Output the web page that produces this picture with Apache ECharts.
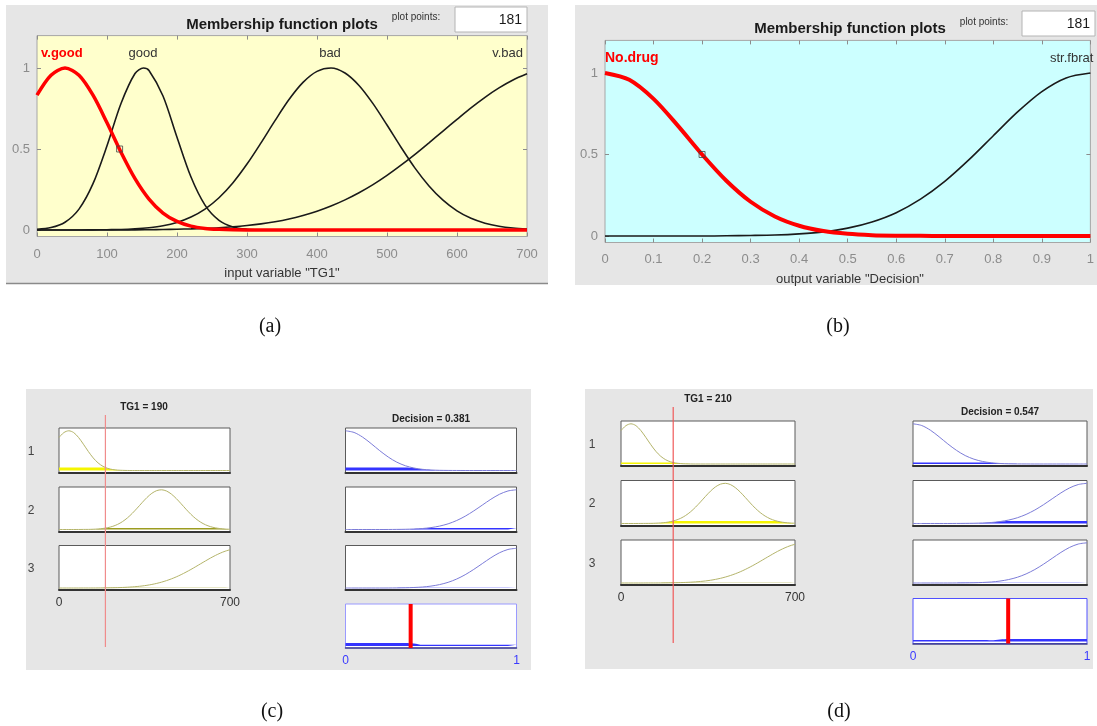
<!DOCTYPE html>
<html><head><meta charset="utf-8">
<script src="https://cdn.jsdelivr.net/npm/echarts@6/dist/echarts.min.js"></script>
<style>html,body{margin:0;padding:0;background:#fff}#c{width:1097px;height:726px}</style>
</head><body><div id="c"></div>
<script>
// ---------- data ----------
const tgX = [0,20,40,60,80,100,120,140,160,180,200,220,240,260,280,300,320,340,360,380,400,420,440,460,480,500,520,540,560,580,600,620,640,660,680,700];
const vGood = [0.832,0.955,1.000,0.955,0.832,0.662,0.480,0.317,0.191,0.105,0.053,0.024,0.010,0.004,0.001,0,0,0,0,0,0,0,0,0,0,0,0,0,0,0,0,0,0,0,0,0];
const goodX = [0,20,40,60,80,100,120,140,152,160,180,200,220,240,260,280,300,320,340,360,380,400,420,440,460,480,500,520,540,560,580,600,620,640,660,680,700];
const good  = [0.004,0.015,0.048,0.129,0.286,0.520,0.781,0.966,1.000,0.985,0.827,0.573,0.327,0.154,0.060,0.019,0.005,0.001,0,0,0,0,0,0,0,0,0,0,0,0,0,0,0,0,0,0,0];
const bad   = [0,0,0,0,0.001,0.002,0.003,0.007,0.014,0.026,0.047,0.080,0.129,0.199,0.292,0.407,0.538,0.675,0.805,0.911,0.979,1.000,0.969,0.892,0.780,0.648,0.511,0.382,0.272,0.184,0.118,0.072,0.042,0.023,0.012,0.006];
const vBad  = [0,0,0,0,0,0.001,0.001,0.001,0.002,0.003,0.005,0.007,0.010,0.014,0.020,0.028,0.038,0.051,0.068,0.090,0.116,0.148,0.186,0.230,0.280,0.337,0.400,0.467,0.538,0.611,0.683,0.754,0.819,0.877,0.926,0.964];
const decX = [0,0.05,0.1,0.15,0.2,0.25,0.3,0.35,0.4,0.45,0.5,0.55,0.6,0.65,0.7,0.75,0.8,0.85,0.9,0.95,1];
const noDrug   = [1,0.958,0.841,0.677,0.500,0.339,0.210,0.120,0.063,0.030,0.013,0.005,0.002,0.001,0,0,0,0,0,0,0];
const strFbrat = [0,0,0,0,0,0.001,0.003,0.006,0.013,0.025,0.048,0.086,0.143,0.226,0.335,0.468,0.615,0.761,0.886,0.970,1];
const tgLabels  = ['v.good','good','bad','v.bad'];
const decLabels = ['No.drug','str.fbrat'];
const muTicks = [0,0.5,1];
const markerA = [118,0.5];
const markerB = [0.2,0.5];
const plotPoints = '181';
// rule viewer cases
const tg1C = 190, decisionC = 0.381, fireC = [0.076,0.035,0.004];
const tg1D = 210, decisionD = 0.547, fireD = [0.036,0.061,0.006];

// ---------- helpers ----------
const F = "'Liberation Sans', Arial, sans-serif";
const pairs = (xs, ys) => xs.map((x,i)=>[x, ys[i]]);
const clip = (ys, w) => ys.map(v => Math.min(v, w));
const grids=[], xAxes=[], yAxes=[], series=[], graphics=[];
function addGrid(g){ grids.push(g); return grids.length-1; }
function addX(a){ xAxes.push(a); return xAxes.length-1; }
function addY(a){ yAxes.push(a); return yAxes.length-1; }
function txt(x,y,text,font,fill,align,valign){
  graphics.push({type:'text', x:x, y:y, z:20, silent:true,
    style:{text:text, font:font, fill:fill, align:align||'center', verticalAlign:valign||'middle', textAlign:align||'center', textVerticalAlign:valign||'middle'}});
}
function rect(x,y,w,h,fill,stroke,z){
  graphics.push({type:'rect', z:(z===undefined?-10:z), silent:true, shape:{x:x,y:y,width:w,height:h}, style:{fill:fill, stroke:stroke||null, lineWidth:stroke?1:0}});
}

// ---------- backgrounds ----------
rect(6,5,542,279,'#e6e6e6');
graphics.push({type:'line', z:-9, silent:true, shape:{x1:6,y1:283.5,x2:548,y2:283.5}, style:{stroke:'#8a8a8a', lineWidth:1.5}});
rect(575,5,522,280,'#e6e6e6');
rect(26,389,505,281,'#e6e6e6');
rect(585,389,508,280,'#e6e6e6');

// ---------- membership function panel builder ----------
function mfPanel(cfg){
  const gi = addGrid({left:cfg.left, top:cfg.top, width:cfg.width, height:cfg.height, show:true, backgroundColor:cfg.bg, borderColor:'#a6a6a6', borderWidth:1});
  const tickStyle = {color:'#8c8c8c'};
  const xi = addX({gridIndex:gi, type:'value', min:cfg.xmin, max:cfg.xmax, interval:cfg.interval, position:'bottom',
    axisLine:{show:false, onZero:false}, axisTick:{show:true, inside:true, length:4, lineStyle:tickStyle},
    axisLabel:{color:'#8c8c8c', fontSize:13, fontFamily:F, margin:cfg.xMargin}, splitLine:{show:false}});
  addX({gridIndex:gi, type:'value', min:cfg.xmin, max:cfg.xmax, interval:cfg.interval, position:'top',
    axisLine:{show:false, onZero:false}, axisTick:{show:true, inside:true, length:4, lineStyle:tickStyle},
    axisLabel:{show:false}, splitLine:{show:false}});
  const yi = addY({gridIndex:gi, type:'value', min:-0.04, max:1.2, position:'left',
    axisLine:{show:false, onZero:false}, axisTick:{show:true, inside:true, length:4, customValues:muTicks, lineStyle:tickStyle},
    axisLabel:{customValues:muTicks, color:'#8c8c8c', fontSize:13, fontFamily:F, margin:7}, splitLine:{show:false}});
  addY({gridIndex:gi, type:'value', min:-0.04, max:1.2, position:'right',
    axisLine:{show:false, onZero:false}, axisTick:{show:true, inside:true, length:4, customValues:muTicks, lineStyle:tickStyle},
    axisLabel:{show:false}, splitLine:{show:false}});
  cfg.curves.forEach(c=>{
    series.push({type:'line', xAxisIndex:xi, yAxisIndex:yi, data:pairs(c.xs, c.ys), smooth:0.3, symbol:'none',
      lineStyle:{color:c.color, width:c.width}, z:c.z||3, silent:true, animation:false});
  });
  series.push({type:'scatter', xAxisIndex:xi, yAxisIndex:yi, data:[cfg.marker], symbol:'rect', symbolSize:6,
    itemStyle:{color:'rgba(0,0,0,0)', borderColor:'#444', borderWidth:1}, z:6, silent:true, animation:false});
}

mfPanel({left:37, top:35.6, width:490, height:200.9, bg:'#ffffcc', xmin:0, xmax:700, interval:100, xMargin:11, marker:markerA,
  curves:[{xs:tgX,ys:vBad,color:'#1a1a1a',width:1.6},{xs:tgX,ys:bad,color:'#1a1a1a',width:1.6},{xs:goodX,ys:good,color:'#1a1a1a',width:1.6},{xs:tgX,ys:vGood,color:'#ff0000',width:3.5,z:5}]});
mfPanel({left:605, top:40.4, width:487, height:202.1, bg:'#ccffff', xmin:0, xmax:1, interval:0.1, xMargin:10, marker:markerB,
  curves:[{xs:decX,ys:strFbrat,color:'#1a1a1a',width:1.6},{xs:decX,ys:noDrug,color:'#ff0000',width:4,z:5}]});

// panel (a) texts
txt(282,25,'Membership function plots','bold 15px '+F,'#1a1a1a');
txt(416,17,'plot points:','10px '+F,'#333');
rect(455,7,72,25,'#ffffff','#b4b4b4',1);
txt(522,20,plotPoints,'14px '+F,'#1a1a1a','right');
txt(41,53,tgLabels[0],'bold 13px '+F,'#ff0000','left');
txt(143,53,tgLabels[1],'13px '+F,'#333');
txt(330,53,tgLabels[2],'13px '+F,'#333');
txt(523,53,tgLabels[3],'13px '+F,'#333','right');
txt(282,273,'input variable "TG1"','13px '+F,'#333');
// panel (b) texts
txt(850,29,'Membership function plots','bold 15px '+F,'#1a1a1a');
txt(984,22,'plot points:','10px '+F,'#333');
rect(1022,11,73,25,'#ffffff','#b4b4b4',1);
txt(1090,24,plotPoints,'14px '+F,'#1a1a1a','right');
txt(605,58,decLabels[0],'bold 14px '+F,'#ff0000','left');
txt(1050,58,decLabels[1],'13px '+F,'#333','left');
txt(850,279,'output variable "Decision"','13px '+F,'#333');

// ---------- rule viewer builder ----------
function miniBox(left, top, w, h, xmax, opt){
  const gi = addGrid({left:left, top:top, width:w, height:h, show:true, backgroundColor:'#ffffff', borderColor:opt.border||'#5a5a5a', borderWidth:1});
  const xi = addX({gridIndex:gi, type:'value', min:0, max:xmax, interval:xmax,
    axisLine:{show:true, onZero:false, lineStyle:{color:opt.base||'#333', width:opt.baseW||2}},
    axisTick:{show:false}, axisLabel:{show:!!opt.labels, color:opt.labelColor||'#333', fontSize:12, fontFamily:F, margin:7},
    splitLine:{show:false}});
  const yi = addY({gridIndex:gi, type:'value', min:-0.05, max:1.07, show:false});
  return {xi, yi};
}
function ruleView(L){
  const inMF = [vGood, bad, vBad];
  const outMF = [noDrug, strFbrat, strFbrat];
  for(let k=0;k<3;k++){
    const top = L.rowTops[k];
    const a = miniBox(L.leftX, top, L.w, L.h, 700, {labels:k===2});
    series.push({type:'line', xAxisIndex:a.xi, yAxisIndex:a.yi, data:pairs(tgX, clip(inMF[k], L.fire[k])), smooth:0.3, symbol:'none',
      lineStyle:{width:0}, areaStyle:{color:L.inFill[k], opacity:1}, z:3, silent:true});
    series.push({type:'line', xAxisIndex:a.xi, yAxisIndex:a.yi, data:pairs(tgX, inMF[k]), smooth:0.3, symbol:'none',
      lineStyle:{color:'#b4b46a', width:1}, z:4, silent:true});
    const b = miniBox(L.rightX, top, L.w, L.h, 1, {});
    series.push({type:'line', xAxisIndex:b.xi, yAxisIndex:b.yi, data:pairs(decX, clip(outMF[k], L.fire[k])), smooth:0.3, symbol:'none',
      lineStyle:{width:0}, areaStyle:{color:'#3434ff', opacity:1}, z:3, silent:true});
    series.push({type:'line', xAxisIndex:b.xi, yAxisIndex:b.yi, data:pairs(decX, outMF[k]), smooth:0.3, symbol:'none',
      lineStyle:{color:'#7c7cd8', width:1}, z:4, silent:true});
    txt(L.numX, top + L.h/2 + 1, String(k+1), '12px '+F, '#444');
  }
  // aggregated output
  const agg = decX.map((_,i)=>Math.max(...outMF.map((m,k)=>Math.min(m[i], L.fire[k]))));
  const o = miniBox(L.rightX, L.outTop, L.w, L.outH, 1, {labels:true, labelColor:'#3a3aff', border:L.outBorder, base:'#3c3c8c', baseW:1.5});
  series.push({type:'line', xAxisIndex:o.xi, yAxisIndex:o.yi, data:pairs(decX, agg), smooth:0.3, symbol:'none',
    lineStyle:{width:0}, areaStyle:{color:'#3434ff', opacity:1}, z:3, silent:true});
  series.push({type:'line', xAxisIndex:o.xi, yAxisIndex:o.yi, data:[[L.decision,-0.05],[L.decision,1.07]], symbol:'none',
    lineStyle:{color:'#ff0000', width:4}, z:6, silent:true});
  // input value line across the input column
  const gi = addGrid({left:L.leftX, top:L.lineTop, width:L.w, height:L.lineH, show:false});
  const xi = addX({gridIndex:gi, type:'value', min:0, max:700, show:false});
  const yi = addY({gridIndex:gi, type:'value', min:0, max:1, show:false});
  series.push({type:'line', xAxisIndex:xi, yAxisIndex:yi, data:[[L.tg1,0],[L.tg1,1]], symbol:'none',
    lineStyle:{color:L.lineColor, width:1.2}, z:8, silent:true});
  txt(L.inTitleX, L.inTitleY, 'TG1 = '+L.tg1, 'bold 10px '+F, '#222');
  txt(L.outTitleX, L.outTitleY, 'Decision = '+L.decision, 'bold 10px '+F, '#222');
}
ruleView({leftX:59, rightX:345.5, w:171, h:44.5, rowTops:[428,487,545.5], outTop:604, outH:44, numX:31,
  fire:fireC, tg1:tg1C, decision:decisionC, lineTop:415, lineH:232, lineColor:'#f08c8c', outBorder:'#9a9aff',
  inFill:['#f5f500','#9c9c20','#9c9c20'],
  inTitleX:144, inTitleY:407, outTitleX:431, outTitleY:419});
ruleView({leftX:621, rightX:913, w:174, h:45, rowTops:[421,480.5,540], outTop:598.5, outH:45, numX:592,
  fire:fireD, tg1:tg1D, decision:decisionD, lineTop:407, lineH:236, lineColor:'#f05a5a', outBorder:'#5050ff',
  inFill:['#f5f500','#f5f500','#9c9c20'],
  inTitleX:708, inTitleY:399, outTitleX:1000, outTitleY:412});

// captions
const SERIF = "'Liberation Serif', 'Times New Roman', serif";
txt(270,327,'(a)','20px '+SERIF,'#111');
txt(838,327,'(b)','20px '+SERIF,'#111');
txt(272,712,'(c)','20px '+SERIF,'#111');
txt(839,712,'(d)','20px '+SERIF,'#111');

const chart = echarts.init(document.getElementById('c'), null, {renderer:'canvas', width:1097, height:726});
chart.setOption({
  animation:false,
  backgroundColor:'#ffffff',
  grid:grids, xAxis:xAxes, yAxis:yAxes, series:series,
  graphic:{elements:graphics}
});
</script>
</body></html>
